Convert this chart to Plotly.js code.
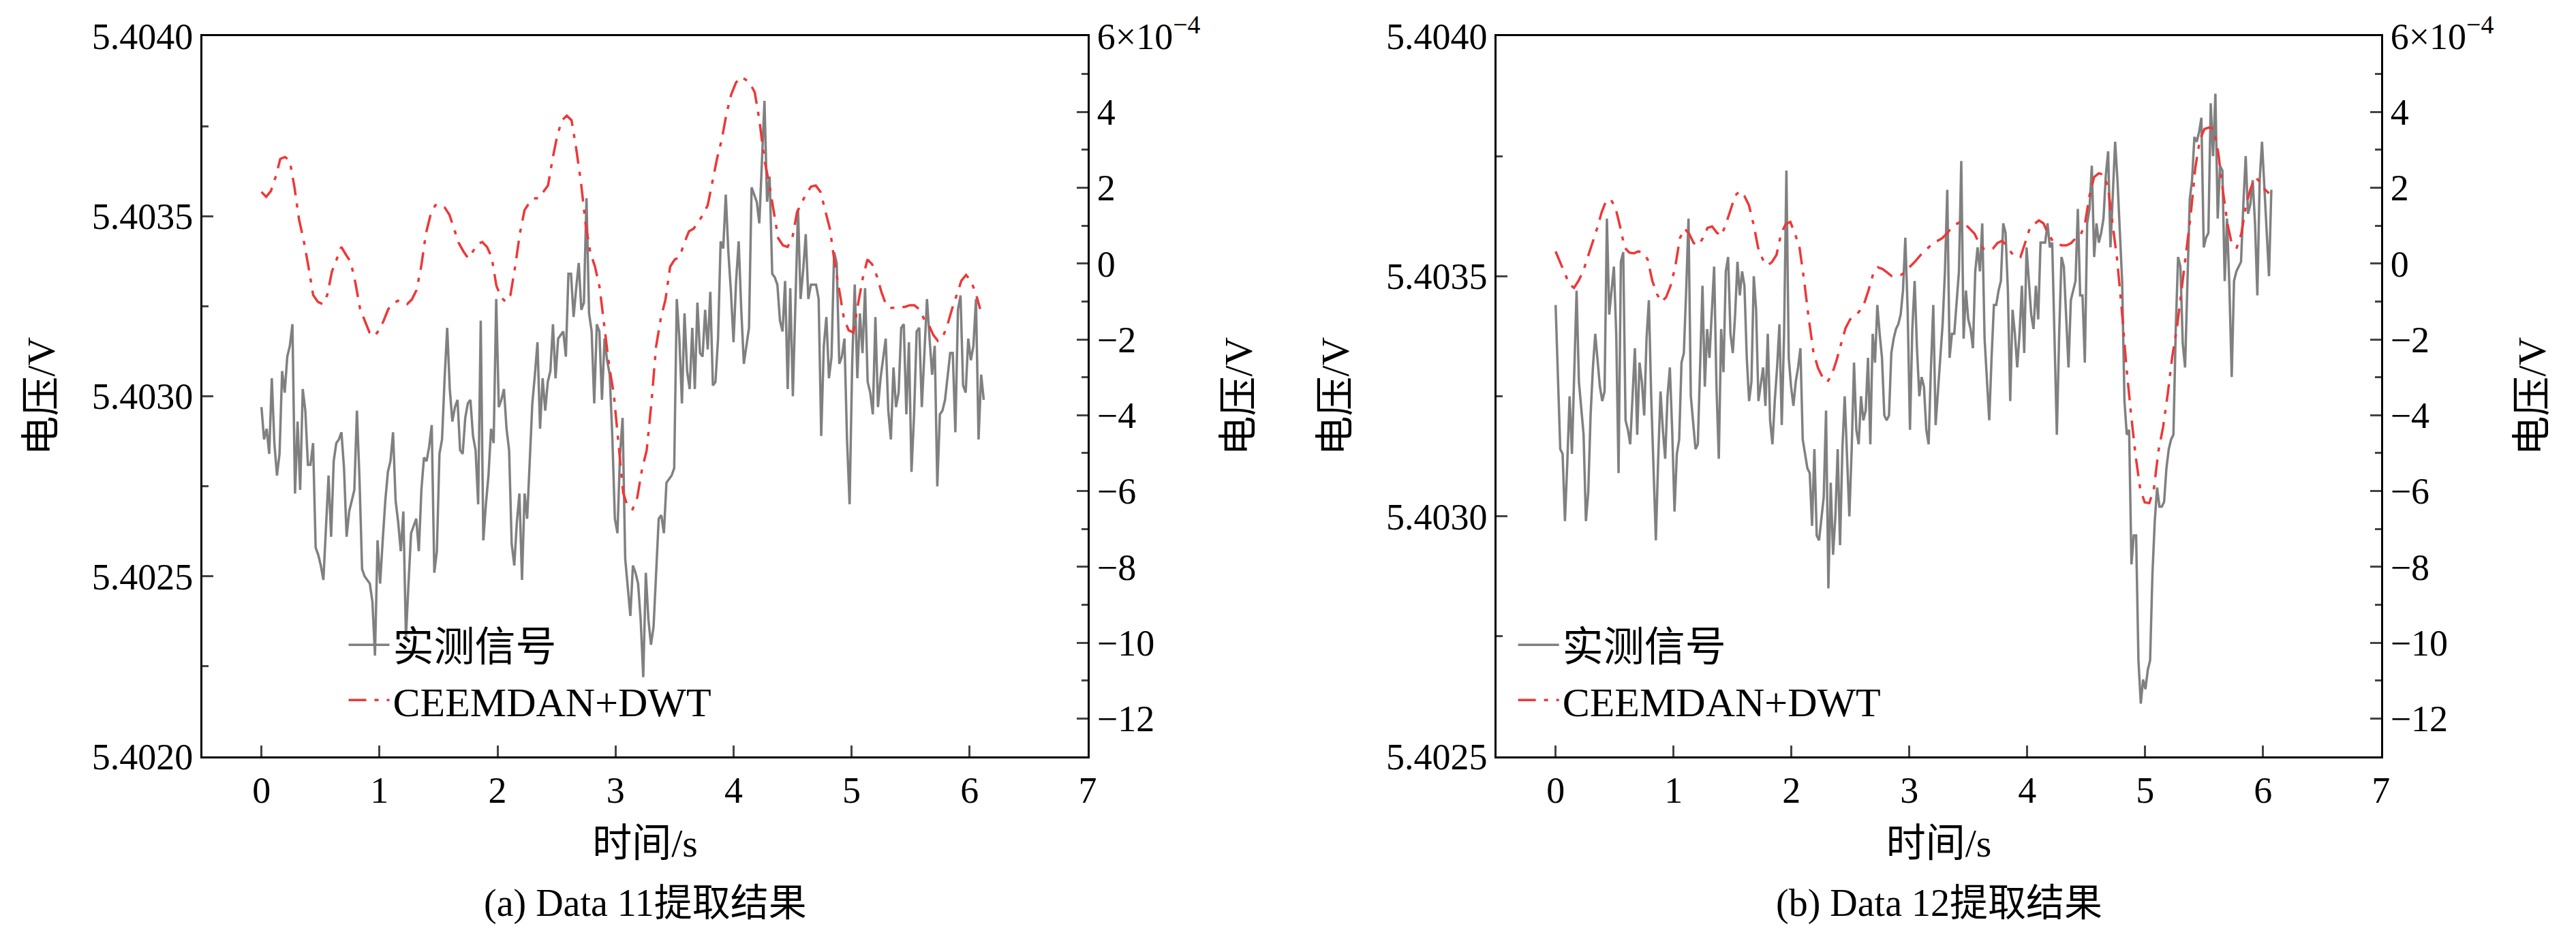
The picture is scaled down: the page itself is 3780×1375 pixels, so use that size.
<!DOCTYPE html>
<html>
<head>
<meta charset="utf-8">
<script src="https://cdn.plot.ly/plotly-3.0.1.min.js"></script>
<style>html,body{margin:0;padding:0;background:#fff;}#chart{width:3780px;height:1375px;}</style>
</head>
<body>
<div id="chart"></div>
<script>
// 实测信号 (V) 与 CEEMDAN+DWT 提取结果 (×10^-4)，均匀采样，0 ~ tEnd 秒
var measured11 = [5.40297,5.40288,5.40291,5.40284,5.40305,5.40287,5.40278,5.40284,5.40307,5.40301,5.40311,5.40314,5.40320,5.40273,5.40293,5.40274,5.40302,5.40296,5.40281,5.40281,5.40287,5.40258,5.40256,5.40253,5.40249,5.40264,5.40278,5.40261,5.40282,5.40287,5.40288,5.40290,5.40280,5.40261,5.40268,5.40271,5.40274,5.40296,5.40277,5.40252,5.40250,5.40249,5.40248,5.40243,5.40228,5.40260,5.40248,5.40260,5.40271,5.40279,5.40282,5.40290,5.40271,5.40265,5.40257,5.40268,5.40233,5.40248,5.40262,5.40264,5.40266,5.40257,5.40274,5.40283,5.40282,5.40286,5.40292,5.40251,5.40257,5.40284,5.40288,5.40305,5.40319,5.40302,5.40293,5.40297,5.40299,5.40285,5.40284,5.40294,5.40298,5.40299,5.40289,5.40285,5.40270,5.40321,5.40260,5.40270,5.40278,5.40291,5.40287,5.40327,5.40297,5.40299,5.40302,5.40291,5.40285,5.40259,5.40253,5.40265,5.40273,5.40249,5.40273,5.40266,5.40281,5.40298,5.40306,5.40315,5.40291,5.40305,5.40296,5.40304,5.40307,5.40320,5.40305,5.40316,5.40317,5.40318,5.40311,5.40334,5.40334,5.40322,5.40330,5.40337,5.40324,5.40326,5.40355,5.40323,5.40318,5.40298,5.40320,5.40318,5.40299,5.40316,5.40310,5.40306,5.40289,5.40266,5.40262,5.40284,5.40294,5.40255,5.40247,5.40239,5.40253,5.40251,5.40248,5.40238,5.40222,5.40251,5.40238,5.40231,5.40236,5.40250,5.40266,5.40267,5.40262,5.40276,5.40277,5.40278,5.40280,5.40327,5.40316,5.40298,5.40323,5.40307,5.40302,5.40319,5.40302,5.40326,5.40312,5.40311,5.40324,5.40313,5.40329,5.40303,5.40304,5.40316,5.40343,5.40341,5.40356,5.40340,5.40329,5.40315,5.40332,5.40343,5.40324,5.40309,5.40314,5.40319,5.40358,5.40356,5.40354,5.40348,5.40364,5.40382,5.40354,5.40361,5.40334,5.40333,5.40331,5.40321,5.40318,5.40332,5.40302,5.40330,5.40300,5.40324,5.40352,5.40327,5.40335,5.40345,5.40327,5.40331,5.40331,5.40331,5.40327,5.40289,5.40314,5.40322,5.40305,5.40311,5.40340,5.40337,5.40309,5.40311,5.40316,5.40288,5.40270,5.40309,5.40331,5.40305,5.40323,5.40312,5.40330,5.40304,5.40301,5.40295,5.40322,5.40297,5.40305,5.40310,5.40316,5.40296,5.40288,5.40308,5.40297,5.40301,5.40319,5.40320,5.40295,5.40315,5.40279,5.40295,5.40318,5.40319,5.40297,5.40312,5.40327,5.40316,5.40306,5.40314,5.40275,5.40295,5.40296,5.40299,5.40306,5.40312,5.40312,5.40290,5.40324,5.40328,5.40303,5.40301,5.40316,5.40310,5.40314,5.40327,5.40288,5.40306,5.40299];
var denoised11 = [1.89,1.76,1.91,2.28,2.76,2.81,2.72,2.03,1.16,0.60,-0.08,-0.83,-1.01,-1.07,-0.83,-0.21,0.11,0.44,0.23,0.04,-0.51,-1.20,-1.51,-1.82,-1.92,-1.76,-1.51,-1.20,-1.07,-0.98,-1.01,-1.07,-0.95,-0.70,-0.08,0.79,1.29,1.54,1.56,1.48,1.29,0.92,0.54,0.32,0.14,0.32,0.51,0.57,0.44,0.17,-0.58,-0.89,-1.01,-0.83,-0.08,0.79,1.41,1.60,1.72,1.72,1.89,2.06,2.78,3.40,3.78,3.90,3.78,3.03,2.16,1.04,0.29,-0.08,-0.64,-1.70,-2.69,-3.44,-4.68,-6.05,-6.42,-6.48,-6.17,-5.43,-4.93,-3.69,-2.19,-1.45,-0.95,-0.08,0.11,0.17,0.54,0.85,0.92,1.10,1.29,1.54,2.16,2.78,3.28,3.96,4.46,4.77,4.92,4.86,4.75,4.52,3.78,2.78,2.16,1.41,0.67,0.48,0.44,0.67,1.35,1.60,1.85,2.03,2.06,1.89,1.41,0.92,0.04,-0.70,-1.45,-1.76,-1.82,-1.07,-0.39,0.11,-0.02,-0.33,-0.76,-1.10,-1.17,-1.17,-1.16,-1.14,-1.10,-1.10,-1.20,-1.45,-1.60,-1.88,-2.04,-1.95,-1.63,-1.20,-0.83,-0.45,-0.30,-0.45,-0.76,-1.20];
var measured12 = [5.40344,5.40328,5.40314,5.40313,5.40299,5.40311,5.40325,5.40313,5.40331,5.40347,5.40328,5.40322,5.40317,5.40299,5.40305,5.40321,5.40331,5.40338,5.40333,5.40327,5.40324,5.40326,5.40362,5.40342,5.40347,5.40352,5.40338,5.40309,5.40353,5.40355,5.40320,5.40318,5.40315,5.40325,5.40335,5.40317,5.40332,5.40328,5.40321,5.40337,5.40345,5.40325,5.40309,5.40295,5.40312,5.40326,5.40318,5.40312,5.40325,5.40331,5.40318,5.40301,5.40313,5.40316,5.40332,5.40334,5.40347,5.40362,5.40325,5.40319,5.40314,5.40315,5.40331,5.40348,5.40327,5.40339,5.40333,5.40343,5.40352,5.40327,5.40312,5.40339,5.40330,5.40351,5.40354,5.40338,5.40334,5.40342,5.40353,5.40346,5.40351,5.40348,5.40333,5.40324,5.40328,5.40350,5.40343,5.40324,5.40328,5.40331,5.40323,5.40338,5.40320,5.40315,5.40324,5.40331,5.40340,5.40319,5.40338,5.40372,5.40333,5.40327,5.40323,5.40328,5.40331,5.40335,5.40316,5.40313,5.40310,5.40309,5.40298,5.40314,5.40296,5.40295,5.40299,5.40304,5.40322,5.40285,5.40307,5.40292,5.40300,5.40314,5.40294,5.40314,5.40325,5.40312,5.40300,5.40314,5.40332,5.40318,5.40315,5.40325,5.40320,5.40322,5.40333,5.40315,5.40338,5.40332,5.40344,5.40338,5.40333,5.40321,5.40320,5.40321,5.40334,5.40337,5.40339,5.40340,5.40342,5.40347,5.40358,5.40343,5.40318,5.40339,5.40349,5.40335,5.40325,5.40329,5.40327,5.40318,5.40315,5.40331,5.40344,5.40319,5.40326,5.40334,5.40340,5.40351,5.40368,5.40333,5.40338,5.40338,5.40344,5.40351,5.40374,5.40337,5.40347,5.40341,5.40339,5.40335,5.40351,5.40356,5.40351,5.40361,5.40337,5.40328,5.40320,5.40333,5.40344,5.40344,5.40347,5.40349,5.40361,5.40359,5.40347,5.40324,5.40343,5.40338,5.40331,5.40338,5.40348,5.40334,5.40356,5.40349,5.40342,5.40339,5.40348,5.40341,5.40357,5.40357,5.40357,5.40361,5.40356,5.40357,5.40338,5.40317,5.40338,5.40354,5.40352,5.40340,5.40331,5.40345,5.40347,5.40349,5.40364,5.40346,5.40346,5.40332,5.40361,5.40364,5.40373,5.40354,5.40361,5.40357,5.40359,5.40362,5.40371,5.40376,5.40356,5.40366,5.40378,5.40370,5.40360,5.40349,5.40324,5.40317,5.40318,5.40290,5.40296,5.40296,5.40270,5.40261,5.40266,5.40264,5.40268,5.40270,5.40288,5.40299,5.40306,5.40302,5.40302,5.40303,5.40310,5.40314,5.40316,5.40317,5.40339,5.40354,5.40352,5.40336,5.40331,5.40348,5.40366,5.40370,5.40379,5.40378,5.40380,5.40383,5.40356,5.40358,5.40359,5.40386,5.40375,5.40388,5.40362,5.40373,5.40372,5.40349,5.40362,5.40348,5.40329,5.40349,5.40351,5.40352,5.40353,5.40365,5.40375,5.40363,5.40365,5.40370,5.40361,5.40346,5.40370,5.40378,5.40368,5.40359,5.40350,5.40368];
var denoised12 = [0.32,0.04,-0.27,-0.55,-0.64,-0.45,-0.20,0.17,0.54,0.92,1.35,1.66,1.69,1.48,0.98,0.42,0.29,0.27,0.32,0.29,0.11,-0.45,-0.80,-1.01,-0.89,-0.58,-0.08,0.67,0.92,0.79,0.54,0.48,0.67,0.94,0.98,0.82,0.73,1.04,1.41,1.79,1.91,1.79,1.54,1.04,0.42,0.11,-0.05,0.04,0.23,0.79,1.04,1.10,0.79,0.42,-0.45,-1.45,-2.32,-2.75,-3.00,-3.13,-2.94,-2.57,-2.13,-1.70,-1.47,-1.38,-1.26,-1.07,-0.70,-0.27,-0.10,-0.14,-0.23,-0.33,-0.33,-0.30,-0.23,-0.08,0.04,0.19,0.32,0.42,0.54,0.60,0.67,0.79,0.94,1.04,1.10,1.04,0.92,0.79,0.54,0.39,0.36,0.39,0.54,0.60,0.48,0.29,0.17,0.17,0.54,0.92,1.04,1.14,1.06,0.79,0.60,0.52,0.48,0.48,0.54,0.67,0.73,1.04,1.79,2.28,2.38,2.35,2.03,1.04,0.11,-1.20,-2.69,-3.94,-5.05,-5.93,-6.30,-6.32,-5.93,-4.93,-4.31,-3.44,-2.44,-1.70,-0.70,0.17,1.29,2.53,3.28,3.55,3.59,3.55,2.91,1.91,1.04,0.48,0.42,0.79,1.54,1.97,2.28,2.16,1.97,1.85];
var tEndMeasured11 = 6.12, tEndDenoised11 = 6.09;
var tEndMeasured12 = 6.07, tEndDenoised12 = 6.05;
var rightTickVals = [-12, -10, -8, -6, -4, -2, 0, 2, 4, 6];
var rightTickText = ['−12', '−10', '−8', '−6', '−4', '−2', '0', '2', '4', '6×10<sup>−4</sup>'];
var captions = ['(a) Data 11提取结果', '(b) Data 12提取结果'];

function times(n, tEnd) {
    var t = [];
    for (var i = 0; i < n; i++) t.push(i * tEnd / (n - 1));
    return t;
}

var fontFam = '"Liberation Serif", "Noto Sans CJK SC", serif';
var grey = 'rgb(128,128,128)';
var red = 'rgb(238,55,55)';
var redDash = '26px,12px,6px,12px';

var traces = [
    {x: times(measured11.length, tEndMeasured11), y: measured11, name: '实测信号', type: 'scatter', mode: 'lines',
     line: {color: grey, width: 3.5}, xaxis: 'x', yaxis: 'y', legend: 'legend'},
    {x: times(denoised11.length, tEndDenoised11), y: denoised11, name: 'CEEMDAN+DWT', type: 'scatter', mode: 'lines',
     line: {color: red, width: 3.5, dash: redDash}, xaxis: 'x', yaxis: 'y2', legend: 'legend'},
    {x: times(measured12.length, tEndMeasured12), y: measured12, name: '实测信号', type: 'scatter', mode: 'lines',
     line: {color: grey, width: 3.5}, xaxis: 'x2', yaxis: 'y3', legend: 'legend2'},
    {x: times(denoised12.length, tEndDenoised12), y: denoised12, name: 'CEEMDAN+DWT', type: 'scatter', mode: 'lines',
     line: {color: red, width: 3.5, dash: redDash}, xaxis: 'x2', yaxis: 'y4', legend: 'legend2'}
];

var yDom = [0.1927, 0.9615];
function xAxis(dom, anchor) {
    return {domain: dom, anchor: anchor, range: [-0.5, 7], dtick: 1, tick0: 0,
        showline: true, linecolor: '#000', linewidth: 3, mirror: true,
        ticks: 'inside', ticklen: 16, tickwidth: 3, showgrid: false, zeroline: false,
        tickfont: {size: 54}, title: {text: '时间/s', font: {size: 58}, standoff: 28}};
}
function yLeft(anchor, range, dtick, fmt) {
    return {domain: yDom, anchor: anchor, range: range, dtick: dtick, tick0: range[0], tickformat: fmt,
        showline: true, linecolor: '#000', linewidth: 3, ticks: 'inside', ticklen: 16, tickwidth: 3,
        minor: {ticks: 'inside', dtick: dtick / 2, ticklen: 9, tickwidth: 3},
        showgrid: false, zeroline: false, tickfont: {size: 54},
        title: {text: '电压/V', font: {size: 58}, standoff: 36}};
}
function yRight(overlay, anchor) {
    return {domain: yDom, overlaying: overlay, anchor: anchor, side: 'right', range: [-13, 6],
        tickvals: rightTickVals, ticktext: rightTickText,
        showline: true, linecolor: '#000', linewidth: 3, ticks: 'inside', ticklen: 16, tickwidth: 3,
        minor: {ticks: 'inside', dtick: 1, ticklen: 9, tickwidth: 3},
        showgrid: false, zeroline: false, tickfont: {size: 54},
        title: {text: '电压/V', font: {size: 58}, standoff: 36}};
}

var legendStyle = {bgcolor: 'rgba(0,0,0,0)', font: {size: 60}, tracegroupgap: 0, itemwidth: 60,
    xanchor: 'left', yanchor: 'top', xref: 'paper', yref: 'paper'};

var layout = {
    width: 3780, height: 1375,
    margin: {l: 0, r: 0, t: 0, b: 0},
    paper_bgcolor: '#fff', plot_bgcolor: '#fff',
    font: {family: fontFam, color: '#000', size: 54},
    showlegend: true,
    xaxis: xAxis([0.0786, 0.4222], 'y'),
    yaxis: yLeft('x', [5.4020, 5.4040], 0.0005, '.4f'),
    yaxis2: yRight('y', 'x'),
    xaxis2: xAxis([0.581, 0.9243], 'y3'),
    yaxis3: yLeft('x2', [5.4025, 5.4040], 0.0005, '.4f'),
    yaxis4: yRight('y3', 'x2'),
    legend: Object.assign({x: 0.134, y: 0.345}, legendStyle),
    legend2: Object.assign({x: 0.588, y: 0.345}, legendStyle),
    annotations: [
        {text: captions[0], x: 0.2504, y: 0.012, xref: 'paper', yref: 'paper', showarrow: false,
         font: {size: 56}, xanchor: 'center', yanchor: 'bottom'},
        {text: captions[1], x: 0.7527, y: 0.012, xref: 'paper', yref: 'paper', showarrow: false,
         font: {size: 56}, xanchor: 'center', yanchor: 'bottom'}
    ]
};

Plotly.newPlot('chart', traces, layout, {displayModeBar: false, staticPlot: true});
</script>
</body>
</html>
